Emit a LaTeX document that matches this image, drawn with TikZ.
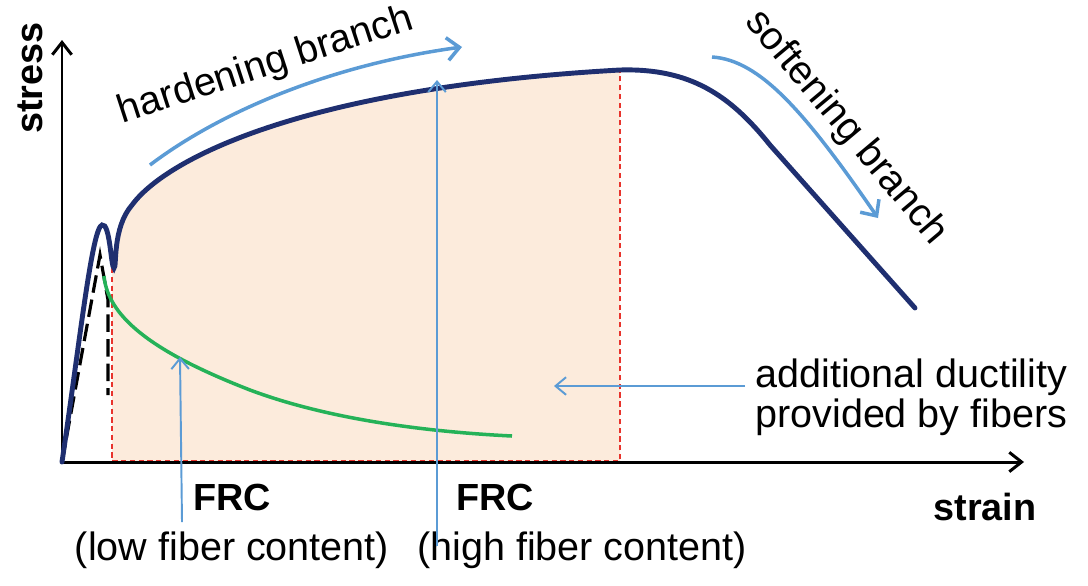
\documentclass[tikz,border=0pt]{standalone}
\usepackage{fontspec}
\setmainfont{Liberation Sans}
\usetikzlibrary{arrows.meta}

\definecolor{navy}{HTML}{1F2F70}
\definecolor{skyblue}{HTML}{5B9BD5}
\definecolor{leafgreen}{HTML}{25B258}
\definecolor{dashred}{HTML}{E8332C}
\definecolor{peach}{HTML}{FCEBDC}

\tikzset{
  axis/.style={line width=1.7pt,-{Straight Barb[length=7pt,width=11pt]}},
  mainline/.style={navy,line width=2.8pt,line cap=round},
  branch/.style={skyblue,line width=2pt,-{Straight Barb[length=7pt,width=13pt]}},
  pointer/.style={skyblue,line width=1.1pt,-{Straight Barb[length=6pt,width=10pt]}},
  bound/.style={dashred,line width=0.9pt,dash pattern=on 3pt off 2pt},
  lbl/.style={font=\fontsize{22.5}{23}\selectfont,inner sep=0pt},
  bold/.style={font=\fontsize{21.5}{23}\selectfont\bfseries,inner sep=0pt}
}

\begin{document}
\begin{tikzpicture}[x=0.02cm,y=-0.02cm]
\useasboundingbox (0,0) rectangle (1088,585);
% shaded area below the curve
\begin{scope}
  \clip (112,0) rectangle (620,461);
  \fill[peach] (62,462) .. controls (80,340) and (92,228) .. (102,225)
    .. controls (110,222) and (111,268) .. (114,268)
    .. controls (117,268) and (112,228) .. (132,205)
    .. controls (165,160) and (300,88) .. (620,70)
    -- (620,462) -- cycle;
\end{scope}
\draw[bound] (112,268) -- (112,461) -- (620,461) -- (620,70);
% axes
\coordinate (O) at (62,462);
\coordinate (ytop) at (62,40);
\coordinate (xend) at (1024,462);
\draw[axis] (O) -- (ytop);
\draw[axis] (O) -- (xend);
\node[bold,rotate=90] (stresslbl) at (30,78) {stress};
\node[bold] (strainlbl) at (985,507) {strain};
% plain concrete
\draw[black,line width=1.8pt,dash pattern=on 10pt off 4pt] (O) -- (100,255) -- (108,300) -- (108,395);
% low fiber content
\draw[leafgreen,line width=2pt] (104,276) .. controls (108,320) and (160,355) .. (250,390)
  .. controls (330,420) and (430,432) .. (512,436);
% high fiber content
\draw[mainline] (O) .. controls (80,340) and (92,228) .. (102,225)
  .. controls (110,222) and (111,268) .. (114,268)
  .. controls (117,268) and (112,228) .. (132,205)
  .. controls (165,160) and (300,88) .. (620,70)
  .. controls (690,68) and (730,95) .. (770,145) -- (915,308);
% branch arrows
\draw[branch] (150,165) .. controls (220,112) and (330,65) .. (462,47);
\draw[branch] (712,57) .. controls (760,60) and (805,112) .. (878,218);
\node[lbl,rotate=18] (hardlbl) at (266,66) {hardening branch};
\node[lbl,rotate=-50] (softlbl) at (846,128) {softening branch};
% annotations
\node[lbl,align=left,anchor=west] (ductlbl) at (755,397) {additional ductility\\provided by fibers};
\node[bold] (frclo) at (232,497) {FRC};
\node[bold] (frchi) at (495,497) {FRC};
\node[lbl] (lowlbl) at (232,550) {(low fiber content)};
\node[lbl] (highlbl) at (582,550) {(high fiber content)};
\coordinate (lowtail) at (182,522);
\coordinate (lowtip) at (180,357);
\coordinate (hightail) at (437,546);
\coordinate (hightip) at (437,80);
\coordinate (ducttail) at (745,386);
\coordinate (ducttip) at (554,386);
\draw[pointer] (lowtail) -- (lowtip);
\draw[pointer] (hightail) -- (hightip);
\draw[pointer] (ducttail) -- (ducttip);
\end{tikzpicture}
\end{document}
